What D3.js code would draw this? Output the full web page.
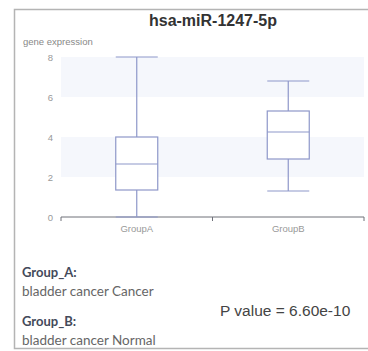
<!DOCTYPE html>
<html>
<head>
<meta charset="utf-8">
<script src="https://cdn.jsdelivr.net/npm/d3@7"></script>
<style>
  body { margin: 0; background: #fff; }
  svg { display: block; }
</style>
</head>
<body>
<div id="chart"></div>
<script>
var title = "hsa-miR-1247-5p";
var groups = ["GroupA", "GroupB"];
// [min, q1, median, q3, max]
var boxStats = [
  [0.0, 1.35, 2.65, 4.0, 8.0],
  [1.3, 2.9, 4.25, 5.3, 6.8]
];
var yTicks = [0, 2, 4, 6, 8];
var groupNames = ["Group_A:", "Group_B:"];
var groupDescs = ["bladder cancer Cancer", "bladder cancer Normal"];
var pValue = "P value = 6.60e-10";

var width = 368, height = 351;
var margin = {top: 57, right: 4, bottom: 134, left: 61};

var svg = d3.select("#chart").append("svg")
  .attr("width", width)
  .attr("height", height);

// outer frame
svg.append("path")
  .attr("d", "M370,9.5 H14.5 V348.5 H370")
  .attr("fill", "none")
  .attr("stroke", "#b4b4b4")
  .attr("stroke-width", 1.5);

var x = d3.scaleBand().domain(groups).range([margin.left, width - margin.right]);
var y = d3.scaleLinear().domain([0, 8]).range([height - margin.bottom, margin.top]);

// alternating split areas
for (var i = 0; i < yTicks.length - 1; i++) {
  if (i % 2 == 1) {
    svg.append("rect")
      .attr("x", margin.left)
      .attr("width", width - margin.right - margin.left)
      .attr("y", y(yTicks[i + 1]))
      .attr("height", y(yTicks[i]) - y(yTicks[i + 1]))
      .attr("fill", "#f5f7fc");
  }
}

svg.append("text")
  .attr("x", 213)
  .attr("y", 26)
  .attr("text-anchor", "middle")
  .attr("font-family", "Liberation Sans, Arial, sans-serif")
  .attr("font-weight", "bold")
  .attr("font-size", 16)
  .attr("fill", "#333")
  .text(title);

svg.append("text")
  .attr("x", 23)
  .attr("y", 45)
  .attr("font-family", "Liberation Sans, Arial, sans-serif")
  .attr("font-size", 9.5)
  .attr("fill", "#888")
  .text("gene expression");

// y labels
svg.selectAll(".ylab").data(yTicks).enter().append("text")
  .attr("class", "ylab")
  .attr("x", 53)
  .attr("y", function(d) { return y(d) + 3.5; })
  .attr("text-anchor", "end")
  .attr("font-family", "Liberation Sans, Arial, sans-serif")
  .attr("font-size", 9.5)
  .attr("fill", "#999")
  .text(function(d) { return d; });

// x axis
var xAxis = svg.append("g")
  .attr("transform", "translate(0," + y(0) + ")");
xAxis.append("line")
  .attr("x1", margin.left).attr("x2", width - margin.right)
  .attr("stroke", "#6e7079").attr("stroke-width", 1);
var tickX = [margin.left].concat(groups.map(function(g) { return x(g) + x.bandwidth(); }));
xAxis.selectAll(".tk").data(tickX).enter().append("line")
  .attr("x1", function(d) { return d; }).attr("x2", function(d) { return d; })
  .attr("y1", 0).attr("y2", 4)
  .attr("stroke", "#6e7079");
xAxis.selectAll(".xl").data(groups).enter().append("text")
  .attr("x", function(d) { return x(d) + x.bandwidth() / 2; })
  .attr("y", 15)
  .attr("text-anchor", "middle")
  .attr("font-family", "Liberation Sans, Arial, sans-serif")
  .attr("font-size", 9.5)
  .attr("fill", "#999")
  .text(function(d) { return d; });

// boxes
var boxW = 42;
var stroke = "#8e97c9";
groups.forEach(function(g, i) {
  var s = boxStats[i];
  var cx = x(g) + x.bandwidth() / 2;
  var gb = svg.append("g").attr("stroke", stroke).attr("stroke-width", 1.2).attr("fill", "none");
  gb.append("line").attr("x1", cx).attr("x2", cx).attr("y1", y(s[4])).attr("y2", y(s[3]));
  gb.append("line").attr("x1", cx).attr("x2", cx).attr("y1", y(s[1])).attr("y2", y(s[0]));
  gb.append("line").attr("x1", cx - boxW / 2).attr("x2", cx + boxW / 2).attr("y1", y(s[4])).attr("y2", y(s[4]));
  gb.append("line").attr("x1", cx - boxW / 2).attr("x2", cx + boxW / 2).attr("y1", y(s[0])).attr("y2", y(s[0]));
  gb.append("rect").attr("x", cx - boxW / 2).attr("width", boxW)
    .attr("y", y(s[3])).attr("height", y(s[1]) - y(s[3])).attr("fill", "#fff");
  gb.append("line").attr("x1", cx - boxW / 2).attr("x2", cx + boxW / 2).attr("y1", y(s[2])).attr("y2", y(s[2]));
});

// group legend text
var font2 = "Lato, Noto Sans, sans-serif";
groupNames.forEach(function(n, i) {
  svg.append("text")
    .attr("x", 22).attr("y", 277 + i * 49)
    .attr("font-family", font2).attr("font-weight", "bold")
    .attr("font-size", 13).attr("fill", "#444a5a")
    .text(n);
  svg.append("text")
    .attr("x", 22).attr("y", 296 + i * 49)
    .attr("font-family", font2)
    .attr("font-size", 13.5).attr("fill", "#666")
    .text(groupDescs[i]);
});

svg.append("text")
  .attr("x", 220).attr("y", 316)
  .attr("font-family", "Liberation Sans, Arial, sans-serif")
  .attr("font-size", 15.5).attr("fill", "#444")
  .text(pValue);
</script>
</body>
</html>
